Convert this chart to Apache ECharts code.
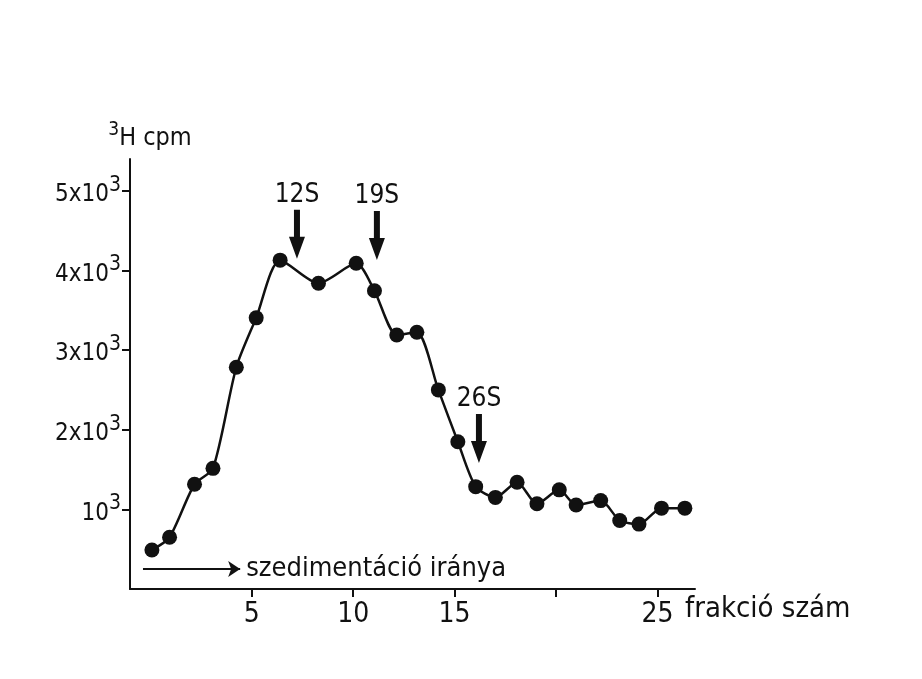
<!DOCTYPE html>
<html>
<head>
<meta charset="utf-8">
<script src="https://cdn.jsdelivr.net/npm/echarts@6/dist/echarts.min.js"></script>
<style>
html,body{margin:0;padding:0;background:#fff;}
#chart{width:922px;height:679px;}
</style>
</head>
<body>
<div id="chart"></div>
<script>
// fraction number (x) and 3H cpm (y)
const fractions = [0.08, 0.95, 2.18, 3.09, 4.24, 5.22, 6.40, 8.29, 10.15, 11.05, 12.15, 13.14, 14.2, 15.16, 16.04, 17.01, 18.08, 19.06, 20.16, 20.99, 22.2, 23.14, 24.09, 25.2, 26.35];
const cpm = [490, 650, 1315, 1515, 2785, 3405, 4130, 3840, 4090, 3745, 3190, 3225, 2500, 1850, 1285, 1150, 1340, 1070, 1245, 1055, 1110, 860, 815, 1015, 1015];

const xTicks = [5, 10, 15, 20, 25];
const xTickLabels = [5, 10, 15, 25];
const yTicks = [1000, 2000, 3000, 4000, 5000];

// sedimentation markers: label, fraction, cpm at arrow tip
const markerLabels = ['12S', '19S', '26S'];
const markerX = [7.23, 11.17, 16.2];
const markerY = [4146, 4133, 1583];

// sedimentation direction arrow
const dirLabel = 'szedimentáció iránya';
const dirFrom = [-0.36, 250];
const dirTo = [4.43, 250];

const FONT = '"Liberation Sans Narrow", "DejaVu Sans Condensed", "DejaVu Sans", sans-serif';
const INK = '#111';

const chart = echarts.init(document.getElementById('chart'), null, {renderer: 'canvas'});

const seriesData = fractions.map((f, i) => [f, cpm[i]]);
const arrowPath = 'path://M5,0 L11,0 L11,27 L16,27 L8,49 L0,27 L5,27 Z';

chart.setOption({
  animation: false,
  backgroundColor: '#fff',
  grid: {left: 130, right: 227, top: 159, bottom: 90, containLabel: false},
  xAxis: {
    type: 'value',
    min: -1,
    max: 26.85,
    name: 'frakció szám',
    nameLocation: 'end',
    nameGap: -10,
    nameTextStyle: {fontFamily: FONT, fontSize: 29, color: INK, verticalAlign: 'top', padding: [6, 0, 0, 0]},
    axisLine: {show: true, onZero: false, lineStyle: {color: INK, width: 2}},
    axisTick: {show: true, customValues: xTicks, length: 8, lineStyle: {color: INK, width: 2}},
    axisLabel: {customValues: xTickLabels, margin: 12, fontFamily: FONT, fontSize: 28, color: INK},
    splitLine: {show: false}
  },
  yAxis: {
    type: 'value',
    min: 0,
    max: 5400,
    name: '{s|3}{b|H cpm}',
    nameLocation: 'end',
    nameGap: 8,
    nameTextStyle: {
      padding: [0, 0, 0, 40],
      rich: {
        s: {fontFamily: FONT, fontSize: 19, color: INK, verticalAlign: 'top', lineHeight: 30},
        b: {fontFamily: FONT, fontSize: 25, color: INK, verticalAlign: 'bottom', lineHeight: 30}
      }
    },
    axisLine: {show: true, onZero: false, lineStyle: {color: INK, width: 2}},
    axisTick: {show: true, customValues: yTicks, length: 8, lineStyle: {color: INK, width: 2}},
    axisLabel: {
      customValues: yTicks,
      margin: 9,
      formatter: v => v === 1000 ? '{b|10}{s|3}' : '{b|' + (v / 1000) + 'x10}{s|3}',
      rich: {
        b: {fontFamily: FONT, fontSize: 24, color: INK, verticalAlign: 'bottom', lineHeight: 32},
        s: {fontFamily: FONT, fontSize: 21, color: INK, verticalAlign: 'top', lineHeight: 32}
      }
    },
    splitLine: {show: false}
  },
  series: [{
    type: 'line',
    data: seriesData,
    smooth: 0.25,
    symbol: 'circle',
    symbolSize: 15,
    lineStyle: {color: INK, width: 2.5},
    itemStyle: {color: INK},
    z: 3,
    markPoint: {
      silent: true,
      symbol: arrowPath,
      symbolSize: [16, 49],
      symbolOffset: [0, '-50%'],
      itemStyle: {color: INK},
      label: {show: true, position: 'top', distance: 2, fontFamily: FONT, fontSize: 26, color: INK},
      data: markerLabels.map((t, i) => ({coord: [markerX[i], markerY[i]], value: t, label: {formatter: t}}))
    },
    markLine: {
      silent: true,
      symbol: ['none', 'arrow'],
      symbolSize: 12,
      lineStyle: {color: INK, width: 2, type: 'solid'},
      label: {show: true, position: 'end', distance: 6, formatter: dirLabel, fontFamily: FONT, fontSize: 27, color: INK},
      data: [[{coord: dirFrom}, {coord: dirTo}]]
    }
  }]
});
</script>
</body>
</html>
